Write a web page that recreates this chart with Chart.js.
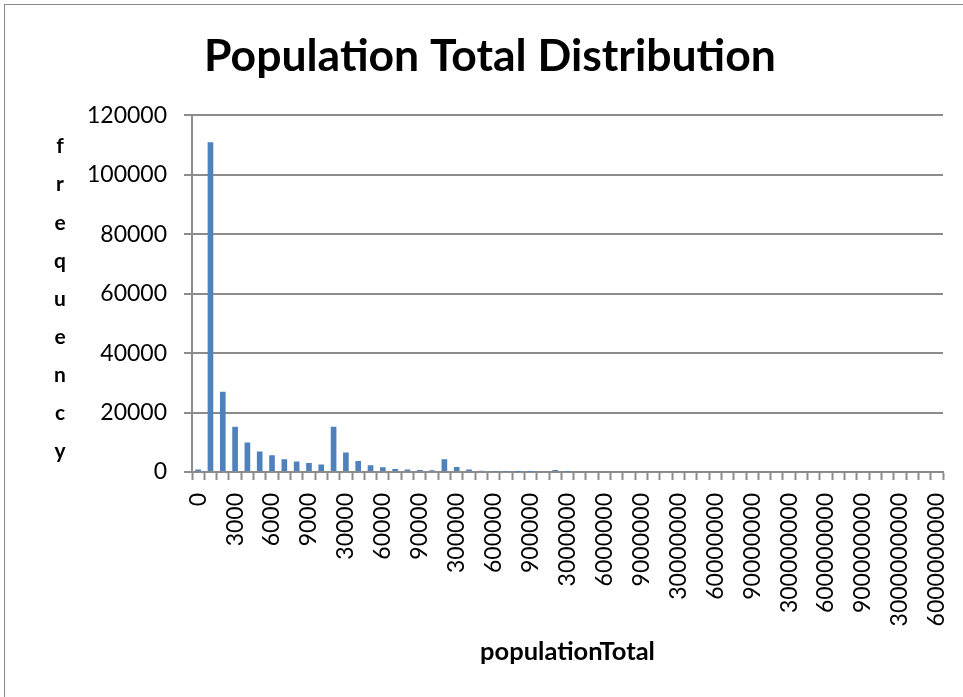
<!DOCTYPE html>
<html>
<head>
<meta charset="utf-8">
<script src="https://cdn.jsdelivr.net/npm/chart.js@4.4.0/dist/chart.umd.min.js"></script>
<style>
  html, body { margin: 0; padding: 0; background: #fff; overflow: hidden; }
  #frame { position: absolute; left: 4px; top: 4px; width: 1200px; height: 1200px;
           border: 1px solid #8a8a8a; box-sizing: border-box; }
  #wrap { position: absolute; left: 0; top: 0; width: 963px; height: 697px; }
</style>
</head>
<body>
<div id="frame"></div>
<div id="wrap"><canvas id="chart" width="963" height="697"></canvas></div>
<script>
// Histogram bins (lower bound of each populationTotal bin)
const binLabels = [
  "0",
  "1000", "2000", "3000", "4000", "5000", "6000", "7000", "8000", "9000",
  "10000", "20000", "30000", "40000", "50000", "60000", "70000", "80000", "90000",
  "100000", "200000", "300000", "400000", "500000", "600000", "700000", "800000", "900000",
  "1000000", "2000000", "3000000", "4000000", "5000000", "6000000", "7000000", "8000000", "9000000",
  "10000000", "20000000", "30000000", "40000000", "50000000", "60000000", "70000000", "80000000", "90000000",
  "100000000", "200000000", "300000000", "400000000", "500000000", "600000000", "700000000", "800000000", "900000000",
  "1000000000", "2000000000", "3000000000", "4000000000", "5000000000", "6000000000"
];

// Number of places falling in each bin
const frequency = [
  800,
  111000, 27000, 15200, 9900, 6900, 5600, 4300, 3500, 3000,
  2500, 15200, 6600, 3700, 2300, 1600, 1050, 800, 700,
  550, 4300, 1700, 800, 400, 180, 90, 40, 15,
  0, 650, 80, 0, 0, 0, 0, 0, 0,
  0, 0, 0, 0, 0, 0, 0, 0, 0,
  0, 0, 0, 0, 0, 0, 0, 0, 0,
  0, 0, 0, 0, 0, 0
];

const yTicks = { min: 0, max: 120000, step: 20000 };

const titleText = "Population Total Distribution";
const xTitleText = "populationTotal";
const yTitleText = "frequency";

const gridColor = "#8c8c8c";
const barColor = "#4f81bd";

// Vertical, letter-by-letter y-axis caption
const stackedYTitle = {
  id: "stackedYTitle",
  afterDraw(chart) {
    const ctx = chart.ctx;
    ctx.save();
    ctx.font = "bold 21px Lato";
    ctx.fillStyle = "#000";
    ctx.textAlign = "center";
    ctx.textBaseline = "middle";
    const letters = yTitleText.split("");
    const step = 38.1;
    const mid = 299;
    const y0 = mid - step * (letters.length - 1) / 2;
    letters.forEach((ch, i) => ctx.fillText(ch, 60, y0 + i * step));
    ctx.restore();
  }
};

new Chart(document.getElementById("chart"), {
  type: "bar",
  data: {
    labels: binLabels,
    datasets: [{
      label: yTitleText,
      data: frequency,
      backgroundColor: barColor,
      borderWidth: 0,
      barPercentage: 0.46,
      categoryPercentage: 1.0
    }]
  },
  options: {
    responsive: false,
    animation: false,
    devicePixelRatio: 1,
    layout: { padding: { left: 37, right: 20, top: 0, bottom: 0 } },
    plugins: {
      legend: { display: false },
      tooltip: { enabled: false },
      title: {
        display: true,
        text: titleText,
        color: "#000",
        font: { family: "Lato", size: 44.5, weight: "bold", lineHeight: 1.2 },
        padding: { top: 30, bottom: 32 }
      }
    },
    scales: {
      x: {
        grid: {
          drawOnChartArea: false,
          drawTicks: true,
          tickLength: 8,
          tickWidth: 2,
          tickColor: gridColor,
          offset: true
        },
        border: { color: gridColor, width: 2 },
        ticks: {
          autoSkip: false,
          minRotation: 90,
          maxRotation: 90,
          padding: 13,
          color: "#000",
          font: { family: "Lato", size: 23 },
          callback: (v, i) => (i % 3 === 0 ? binLabels[i] : "")
        },
        title: {
          display: true,
          text: xTitleText,
          color: "#000",
          font: { family: "Lato", size: 25.5, weight: "bold", lineHeight: 1.2 },
          padding: { top: 0, bottom: 30 }
        },
        afterFit(scale) {
          scale.height = 225;
          scale.paddingLeft = 0;
          scale.paddingRight = 0;
        }
      },
      y: {
        min: yTicks.min,
        max: yTicks.max,
        grid: {
          color: gridColor,
          lineWidth: 2,
          drawTicks: true,
          tickLength: 8,
          tickColor: gridColor
        },
        border: { color: gridColor, width: 2 },
        ticks: {
          stepSize: yTicks.step,
          padding: 17,
          color: "#000",
          font: { family: "Lato", size: 23 },
          callback: (v) => String(v)
        },
        afterFit(scale) { scale.width = 155; }
      }
    }
  },
  plugins: [stackedYTitle]
});
</script>
</body>
</html>
